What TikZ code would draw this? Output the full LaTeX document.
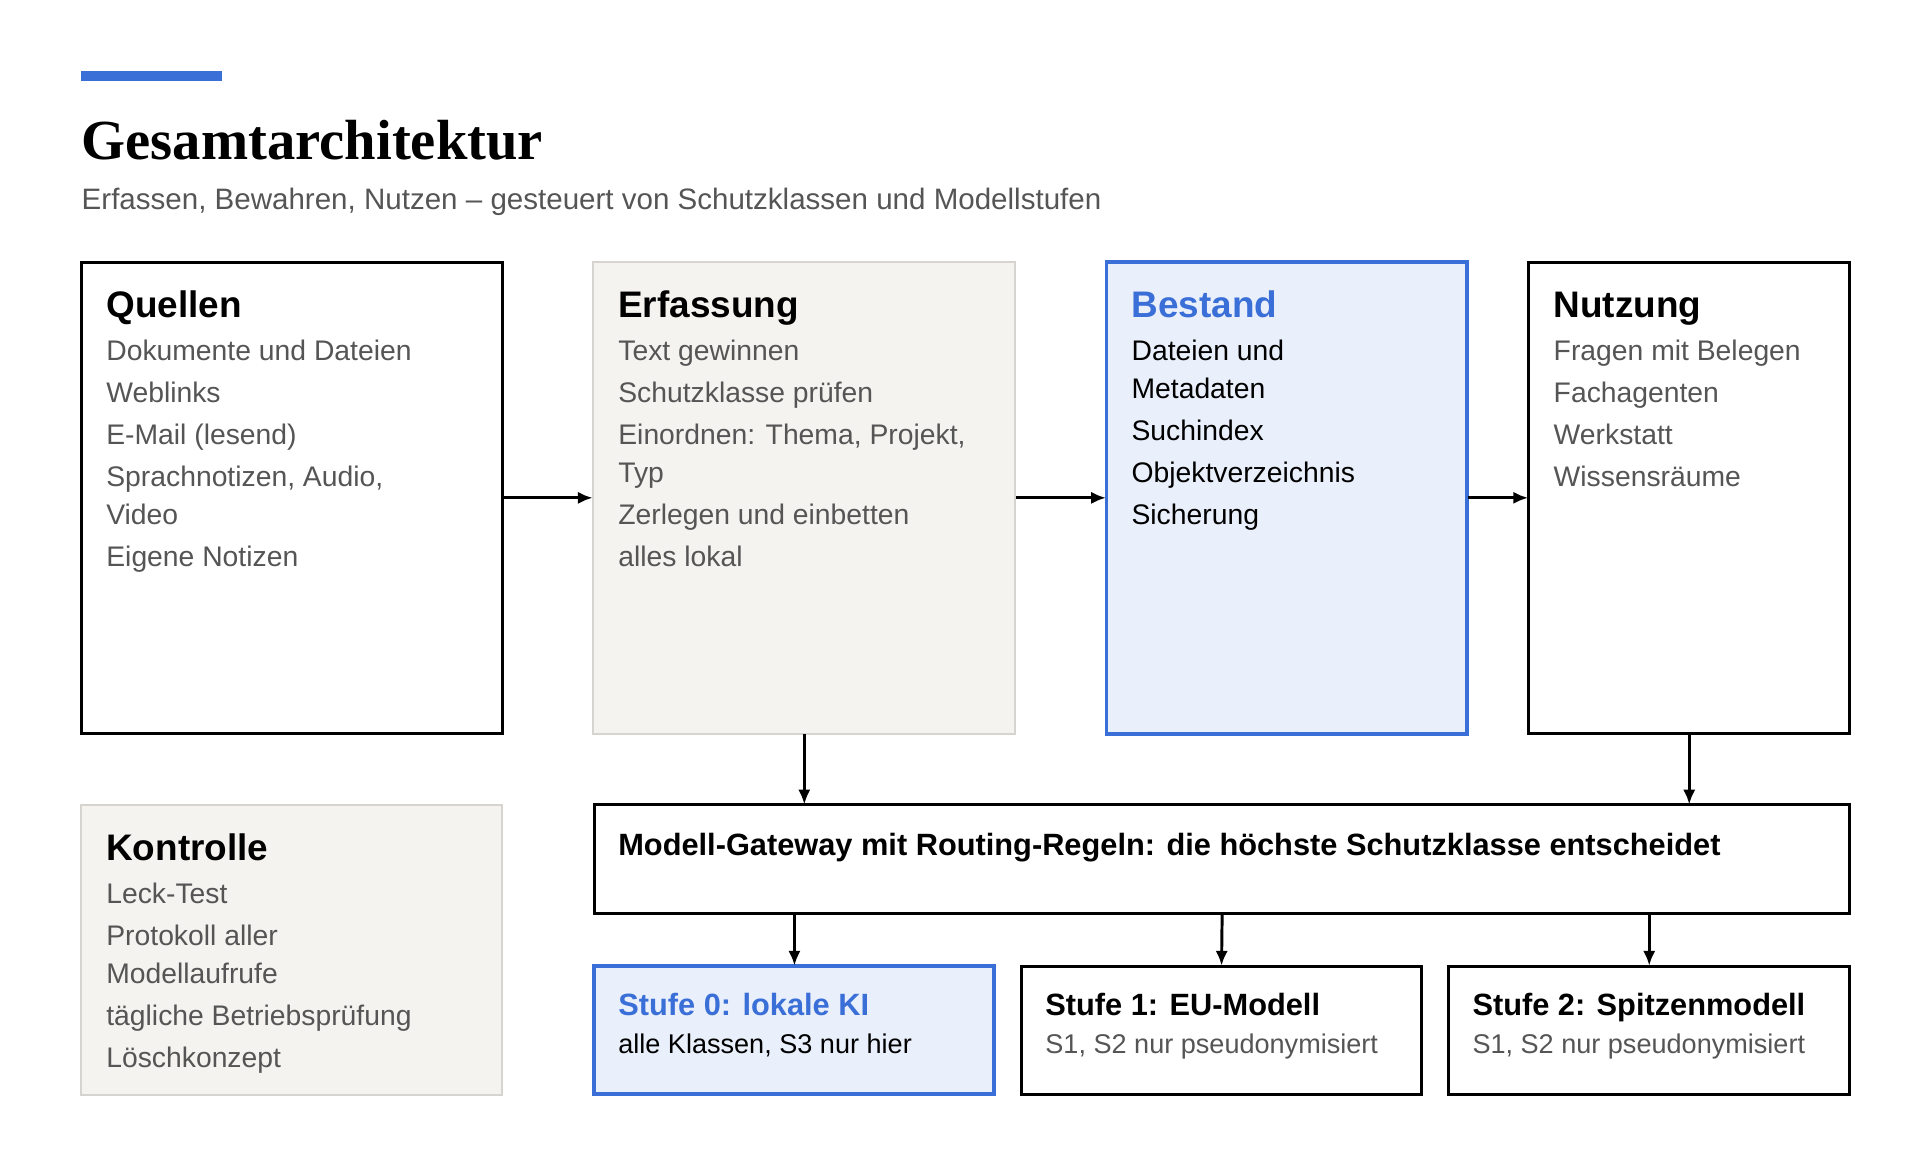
\documentclass[tikz,border=0pt]{standalone}
\usepackage{fontspec}
\setmainfont{Liberation Sans}
\newfontfamily\titlefont{Liberation Serif}
\usetikzlibrary{arrows.meta}
\definecolor{blu}{HTML}{3B6FD8}
\definecolor{lblu}{HTML}{EAF0FB}
\definecolor{gfill}{HTML}{F4F3EF}
\definecolor{gline}{HTML}{D6D4CE}
\definecolor{txt}{HTML}{555555}
\tikzset{
 box/.style={draw=black,line width=1.2pt,fill=white},
 gbox/.style={draw=gline,line width=0.8pt,fill=gfill},
 bbox/.style={draw=blu,line width=1.6pt,fill=lblu},
 head/.style={anchor=base west,inner sep=0,font=\fontsize{15}{18}\selectfont\bfseries},
 item/.style={anchor=base west,inner sep=0,font=\fontsize{11.5}{14}\selectfont,text=txt},
 sub/.style={anchor=base west,inner sep=0,font=\fontsize{11}{13}\selectfont,text=txt},
 arr/.style={-{Latex[length=6pt,width=5pt]},line width=1.2pt}
}
\begin{document}
\begin{tikzpicture}[x=0.5pt,y=-0.5pt]
\useasboundingbox (0,0) rectangle (1560,935);
\fill[blu] (66,58) rectangle (180,66);
\node[anchor=base west,inner sep=0,font=\titlefont\fontsize{23}{26}\selectfont\bfseries] (title) at (66,130) {Gesamtarchitektur};
\node[anchor=base west,inner sep=0,font=\fontsize{12}{14}\selectfont,text=txt] (subtitle) at (66,170) {Erfassen, Bewahren, Nutzen – gesteuert von Schutzklassen und Modellstufen};
% boxes
\draw[box] (66,213) rectangle (408,596);
\node[inner sep=0] (Q) at (237,404.5) [minimum width=171pt,minimum height=191.5pt] {};
\draw[gbox] (482,213) rectangle (825,596);
\node[inner sep=0] (E) at (653.5,404.5) [minimum width=171.5pt,minimum height=191.5pt] {};
\draw[bbox] (899,213) rectangle (1192,596);
\node[inner sep=0] (B) at (1045.5,404.5) [minimum width=146.5pt,minimum height=191.5pt] {};
\draw[box] (1242,213) rectangle (1503,596);
\node[inner sep=0] (N) at (1372.5,404.5) [minimum width=130.5pt,minimum height=191.5pt] {};
\draw[gbox] (66,654) rectangle (408,890);
\node[inner sep=0] (K) at (237,772) [minimum width=171pt,minimum height=118pt] {};
\draw[box] (483,654) rectangle (1503,742);
\node[inner sep=0] (G) at (993,698) [minimum width=510pt,minimum height=44pt] {};
\draw[bbox] (483,785) rectangle (808,889);
\node[inner sep=0] (S0) at (645.5,837) [minimum width=162.5pt,minimum height=52pt] {};
\draw[box] (830,785) rectangle (1155,889);
\node[inner sep=0] (S1) at (992.5,837) [minimum width=162.5pt,minimum height=52pt] {};
\draw[box] (1177,785) rectangle (1503,889);
\node[inner sep=0] (S2) at (1340,837) [minimum width=163pt,minimum height=52pt] {};
% texts
\node[head] (hq) at (86,258) {Quellen};
\node[item] (q1) at (86,293) {Dokumente und Dateien};
\node[item] (q2) at (86,327) {Weblinks};
\node[item] (q3) at (86,361) {E-Mail (lesend)};
\node[item] (q4) at (86,395) {Sprachnotizen, Audio,};
\node[item] (q5) at (86,426) {Video};
\node[item] (q6) at (86,460) {Eigene Notizen};
\node[head] (he) at (502,258) {Erfassung};
\node[item] (e1) at (502,293) {Text gewinnen};
\node[item] (e2) at (502,327) {Schutzklasse prüfen};
\node[item] (e3) at (502,361) {Einordnen: Thema, Projekt,};
\node[item] (e4) at (502,392) {Typ};
\node[item] (e5) at (502,426) {Zerlegen und einbetten};
\node[item] (e6) at (502,460) {alles lokal};
\node[head,text=blu] (hb) at (919,258) {Bestand};
\node[item,text=black] (b1) at (919,293) {Dateien und};
\node[item,text=black] (b2) at (919,324) {Metadaten};
\node[item,text=black] (b3) at (919,358) {Suchindex};
\node[item,text=black] (b4) at (919,392) {Objektverzeichnis};
\node[item,text=black] (b5) at (919,426) {Sicherung};
\node[head] (hn) at (1262,258) {Nutzung};
\node[item] (n1) at (1262,293) {Fragen mit Belegen};
\node[item] (n2) at (1262,327) {Fachagenten};
\node[item] (n3) at (1262,361) {Werkstatt};
\node[item] (n4) at (1262,395) {Wissensräume};
\node[head] (hk) at (86,699) {Kontrolle};
\node[item] (k1) at (86,734) {Leck-Test};
\node[item] (k2) at (86,768) {Protokoll aller};
\node[item] (k3) at (86,799) {Modellaufrufe};
\node[item] (k4) at (86,833) {tägliche Betriebsprüfung};
\node[item] (k5) at (86,867) {Löschkonzept};
\node[head,font=\fontsize{12.5}{15}\selectfont\bfseries] (hg) at (502,695) {Modell-Gateway mit Routing-Regeln: die höchste Schutzklasse entscheidet};
\node[head,font=\fontsize{12.5}{15}\selectfont\bfseries,text=blu] (h0) at (502,825) {Stufe 0: lokale KI};
\node[sub,text=black] (s0) at (502,856) {alle Klassen, S3 nur hier};
\node[head,font=\fontsize{12.5}{15}\selectfont\bfseries] (h1) at (849,825) {Stufe 1: EU-Modell};
\node[sub] (s1) at (849,856) {S1, S2 nur pseudonymisiert};
\node[head,font=\fontsize{12.5}{15}\selectfont\bfseries] (h2) at (1196,825) {Stufe 2: Spitzenmodell};
\node[sub] (s2) at (1196,856) {S1, S2 nur pseudonymisiert};
% arrows
\draw[arr] (Q.east) -- (E.west);
\draw[arr] (E.east) -- (B.west);
\draw[arr] (B.east) -- (N.west);
\draw[arr] (E.south) -- (E.south |- G.north);
\draw[arr] (N.south) -- (N.south |- G.north);
\draw[arr] (G.south -| S0.north) -- (S0.north);
\draw[arr] (G.south) -- (S1.north);
\draw[arr] (G.south -| S2.north) -- (S2.north);
\end{tikzpicture}
\end{document}
